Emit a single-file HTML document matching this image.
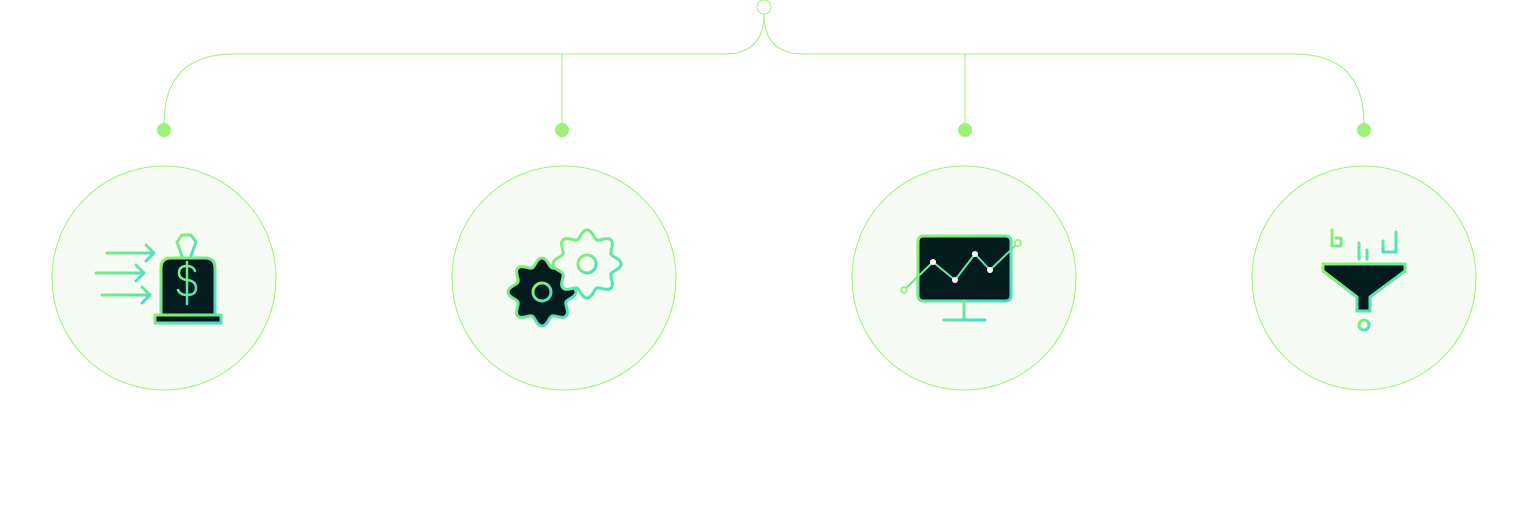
<!DOCTYPE html><html><head><style>body{margin:0;background:#fff}svg{display:block}</style></head><body>
<svg width="1528" height="523" viewBox="0 0 1528 523" xmlns="http://www.w3.org/2000/svg">
<defs><linearGradient id="g" x1="0" y1="0" x2="1" y2="1"><stop offset="0" stop-color="#8ef06a"/><stop offset="1" stop-color="#45dbd2"/></linearGradient></defs>
<g fill="none" stroke="#9ef07a" stroke-width="1">
<circle cx="764" cy="7" r="7" fill="#fff"/>
<path d="M764 14 Q764 54 724 54 L234 54 Q164 54 164 124"/>
<path d="M764 14 Q764 54 804 54 L1294 54 Q1364 54 1364 124"/>
<path d="M562 54 V124 M965 54 V124"/>
</g>
<g fill="#9ef07a"><circle cx="164" cy="130" r="7"/><circle cx="562" cy="130" r="7"/><circle cx="965" cy="130" r="7"/><circle cx="1364" cy="130" r="7"/></g>
<g fill="#f6fcf3" stroke="#9ef07a" stroke-width="1"><circle cx="164" cy="278" r="112"/><circle cx="564" cy="278" r="112"/><circle cx="964" cy="278" r="112"/><circle cx="1364" cy="278" r="112"/></g>
<g stroke="url(#g)" stroke-width="3" stroke-linecap="round" stroke-linejoin="round">
<!-- money -->
<g fill="none"><path d="M107 253 H154 M146 245 L154 253 146 261"/><path d="M96 273 H144 M136 265 L144 273 136 281"/><path d="M102 295 H150 M142 287 L150 295 142 303"/>
<path d="M182 256 L177 242 L182 235 H191 L196 242 L191 256"/></g>
<path d="M161 316 V268 Q161 258 171 258 H205 Q215 258 215 268 V316 Z" fill="#031a1e"/>
<rect x="155" y="315" width="66" height="8" fill="#031a1e"/>
<g fill="none" stroke-width="2.5"><path d="M195 271 Q193 266 187 266 Q179 266 179 273 Q179 279 187 280 Q196 281 196 288 Q196 295 187 295 Q180 295 178 290 M187 262 V304"/></g>
<!-- gears -->
<path id="g1" fill="#031a1e"/><path id="g2" fill="#f6fcf3"/>
<circle cx="542" cy="292" r="9" fill="none"/><circle cx="587" cy="264" r="9" fill="none"/>
<!-- monitor -->
<rect x="918" y="236" width="93" height="65" rx="5" fill="#031a1e"/>
<path d="M964 301 V320 M944 320 H985" fill="none"/>
<polyline points="904,290 933,262 955,280 975,254 990,270 1018,243" fill="none" stroke-width="2"/>
</g>
<g fill="#f6fcf3" stroke="#8ef06a" stroke-width="1.5"><circle cx="904" cy="290" r="3"/><circle cx="1018" cy="243" r="3"/></g>
<g fill="#fff"><circle cx="933" cy="262" r="3"/><circle cx="955" cy="280" r="3"/><circle cx="975" cy="254" r="3"/><circle cx="990" cy="270" r="3"/></g>
<!-- funnel -->
<g stroke="url(#g)" stroke-width="3" stroke-linejoin="round" stroke-linecap="round">
<path d="M1323 264 H1405 V271 L1370 297 V311 H1357 V297 L1323 271 Z" fill="#031a1e"/>
<path d="M1332 230 V246 H1341 V238 H1336 M1359 243 V259 M1367 250 V259 M1383 241 V252 H1396 V232" fill="none"/>
<circle cx="1364" cy="325" r="5" fill="none"/>
</g>
<g stroke="url(#g)" stroke-width="2"><path d="M1327 270 H1370 M1380 270 H1384 M1390 270 H1402"/></g>
</svg>
<script>
function gear(cx,cy,R,r,n){let d="";const N=n*16;for(let i=0;i<=N;i++){const t=i/N*2*Math.PI;const rr=(R+r)/2+(R-r)/2*Math.cos(n*t);const x=cx+rr*Math.cos(t),y=cy+rr*Math.sin(t);d+=(i?"L":"M")+x.toFixed(1)+" "+y.toFixed(1)}return d+"Z"}
document.getElementById("g2").setAttribute("d",gear(587,264,34,26,8));
document.getElementById("g1").setAttribute("d",gear(542,292,34,26,8));
</script>
</body></html>
